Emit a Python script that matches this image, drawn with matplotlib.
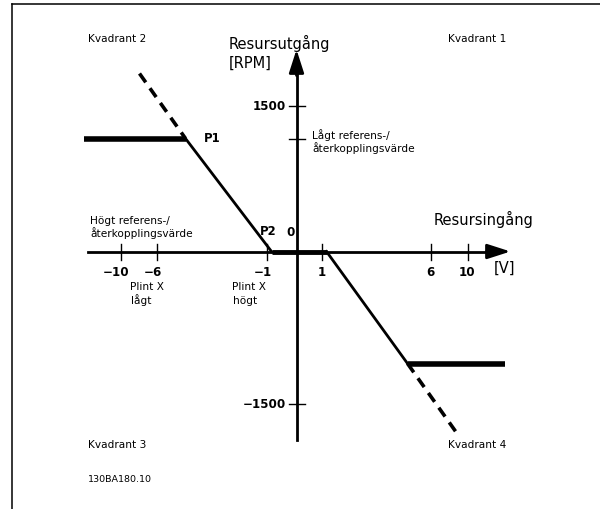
import matplotlib
matplotlib.use("Agg")
import matplotlib.pyplot as plt

# schematic diagram units (origin at axis crossing, ~1 unit per pixel)
x_tick_labels = ["\u221210", "\u22126", "\u22121", "1", "6", "10"]
x_tick_pos = [-176, -140, -30, 25, 134, 171]
y_tick_labels = ["1500", "\u22121500"]
y_tick_pos = [146, -152]
y_low_ref = 113

# characteristic curve (solid part) and dashed extensions
curve_x = [-213, -111, -25, 30, 111, 208]
curve_y = [113, 113, 0, 0, -112, -112]
dash_a_x = [-157, -111]
dash_a_y = [178, 113]
dash_b_x = [111, 162]
dash_b_y = [-112, -184]

fig = plt.figure(figsize=(6, 5.1), dpi=100)
ax = fig.add_axes([0, 0, 1, 1])
ax.set_xlim(-296.5, 303.5)
ax.set_ylim(-257.5, 252.5)
ax.axis("off")

# frame (top and left)
ax.plot([-284.5, 303.5], [248, 248], color="black", lw=1.1, clip_on=False)
ax.plot([-284.5, -284.5], [248, -257.5], color="black", lw=1.1, clip_on=False)

# axes with arrows
ax.plot([-209, 195], [0, 0], color="black", lw=2)
ax.annotate("", xy=(214, 0), xytext=(190, 0),
            arrowprops=dict(arrowstyle="-|>,head_length=1.4,head_width=0.45",
                            color="black", lw=2, shrinkA=0, shrinkB=0))
ax.plot([0, 0], [-188, 180], color="black", lw=2)
ax.annotate("", xy=(0, 202), xytext=(0, 176),
            arrowprops=dict(arrowstyle="-|>,head_length=1.4,head_width=0.45",
                            color="black", lw=2, shrinkA=0, shrinkB=0))

# ticks
for p in x_tick_pos:
    ax.plot([p, p], [-8, 8], color="black", lw=1)
for p in y_tick_pos + [y_low_ref]:
    ax.plot([-8, 8], [p, p], color="black", lw=1)

# curve
ax.plot(curve_x[:2], curve_y[:2], color="black", lw=4, solid_capstyle="butt")
ax.plot(curve_x[1:3], curve_y[1:3], color="black", lw=2)
ax.plot(curve_x[2:4], curve_y[2:4], color="black", lw=3.5, solid_capstyle="butt")
ax.plot(curve_x[3:5], curve_y[3:5], color="black", lw=2)
ax.plot(curve_x[4:], curve_y[4:], color="black", lw=4, solid_capstyle="butt")
ax.plot(dash_a_x, dash_a_y, color="black", lw=2.6, dashes=(3.0, 2.0))
ax.plot(dash_b_x, dash_b_y, color="black", lw=2.6, dashes=(3.0, 2.0))

# tick labels
for p, s in zip(x_tick_pos, x_tick_labels):
    ax.text(p - (4 if s.startswith("\u2212") else 0), -20, s, ha="center", va="center",
            fontsize=8.6, fontweight="bold")
for p, s in zip(y_tick_pos, y_tick_labels):
    ax.text(-11, p, s, ha="right", va="center", fontsize=8.6, fontweight="bold")
ax.text(-2, 20, "0", ha="right", va="center", fontsize=8.6, fontweight="bold")

# labels
small = 7.6
ax.text(-209, 214, "Kvadrant 2", fontsize=small, va="center")
ax.text(151, 214, "Kvadrant 1", fontsize=small, va="center")
ax.text(-209, -193, "Kvadrant 3", fontsize=small, va="center")
ax.text(151, -193, "Kvadrant 4", fontsize=small, va="center")
ax.text(-209, -227, "130BA180.10", fontsize=6.8, va="center")

ax.text(-68, 209, "Resursutgång", fontsize=10.5, va="center")
ax.text(-68, 189, "[RPM]", fontsize=10.5, va="center")
ax.text(137, 33, "Resursingång", fontsize=10.5, va="center")
ax.text(197, -16, "[V]", fontsize=10.5, va="center")

ax.text(16, 117, "Lågt referens-/", fontsize=small, va="center")
ax.text(16, 104, "återkopplingsvärde", fontsize=small, va="center")
ax.text(-206, 32, "Högt referens-/", fontsize=small, va="center")
ax.text(-206, 19, "återkopplingsvärde", fontsize=small, va="center")

ax.text(-166, -35, "Plint X", fontsize=small, va="center")
ax.text(-166, -48, "lågt", fontsize=small, va="center")
ax.text(-64, -35, "Plint X", fontsize=small, va="center")
ax.text(-64, -48, "högt", fontsize=small, va="center")

ax.text(-93, 114, "P1", fontsize=8.4, fontweight="bold", va="center")
ax.text(-37, 21, "P2", fontsize=8.4, fontweight="bold", va="center")

fig.savefig("out.png", dpi=100)
